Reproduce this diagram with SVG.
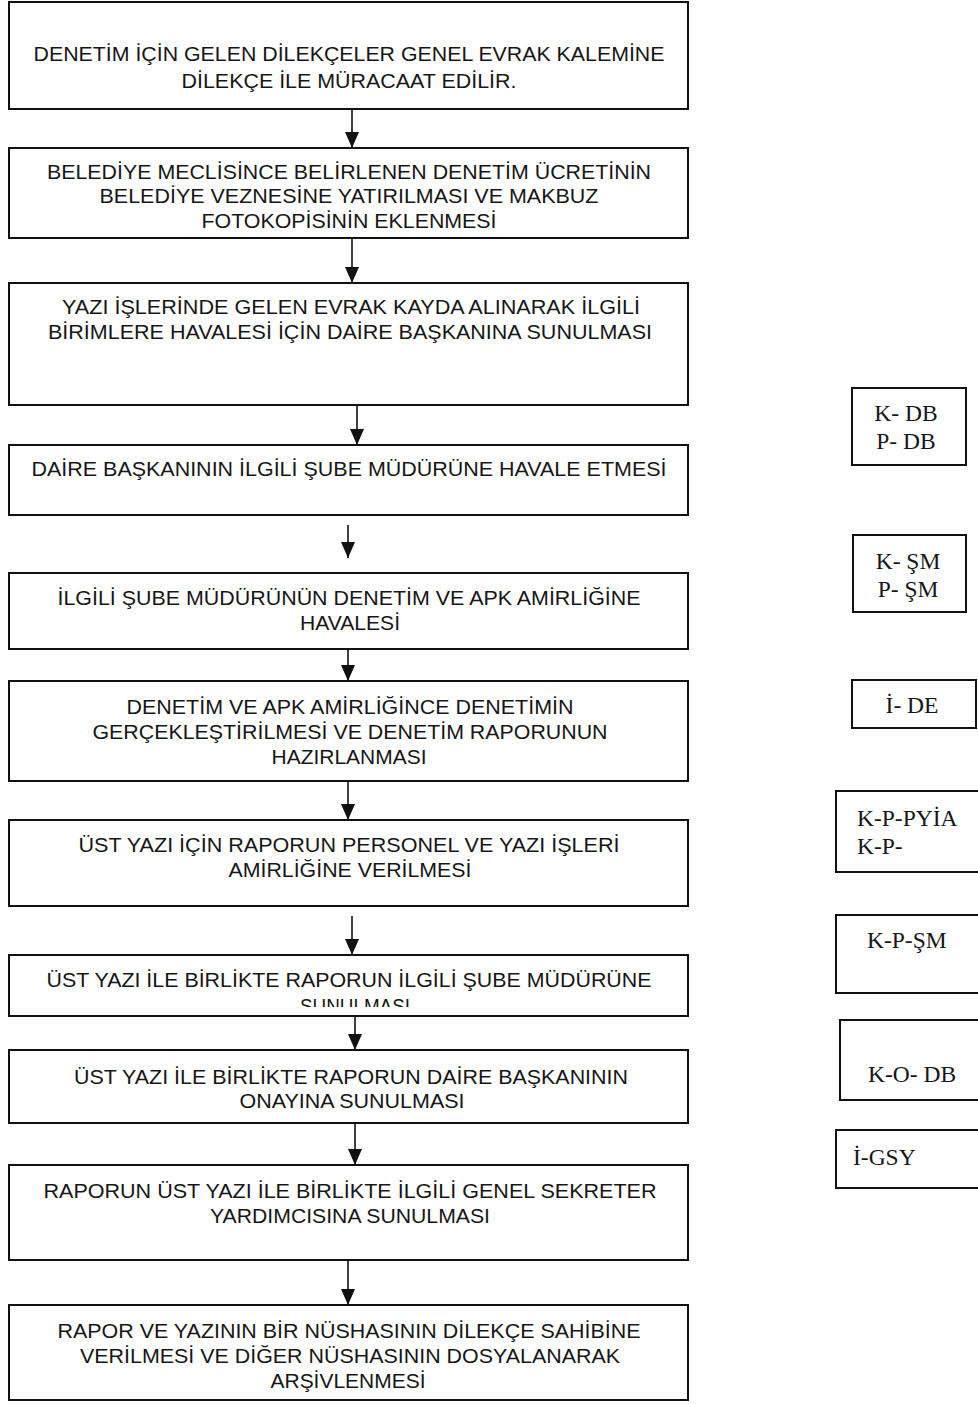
<svg xmlns="http://www.w3.org/2000/svg" width="978" height="1404" viewBox="0 0 978 1404">
<style>
.box{fill:#fff;stroke:#111;stroke-width:2}
.t{font-family:"Liberation Sans",Arial,sans-serif;font-size:21px;fill:#161616;text-anchor:middle}
.s{font-family:"Liberation Serif","Times New Roman",serif;font-size:23.5px;fill:#161616}
.c{text-anchor:middle}
.ln{stroke:#111;stroke-width:1.6;fill:none}
</style>
<defs>
<marker id="ah" viewBox="0 0 16 14" refX="16" refY="7" markerWidth="16" markerHeight="14" markerUnits="userSpaceOnUse" orient="auto">
<path d="M0,0 L16,7 L0,14 Z" fill="#111"/>
</marker>
<clipPath id="clip8"><rect x="0" y="955" width="700" height="52"/></clipPath>
</defs>
<rect width="978" height="1404" fill="#fff"/>

<g id="connectors">
<line class="ln" x1="352" y1="110" x2="352" y2="148" marker-end="url(#ah)"/>
<line class="ln" x1="352" y1="239" x2="352" y2="283" marker-end="url(#ah)"/>
<line class="ln" x1="357" y1="406" x2="357" y2="445" marker-end="url(#ah)"/>
<line class="ln" x1="348" y1="525" x2="348" y2="558" marker-end="url(#ah)"/>
<line class="ln" x1="348" y1="650" x2="348" y2="681" marker-end="url(#ah)"/>
<line class="ln" x1="348" y1="782" x2="348" y2="820" marker-end="url(#ah)"/>
<line class="ln" x1="352" y1="916" x2="352" y2="955" marker-end="url(#ah)"/>
<line class="ln" x1="355" y1="1017" x2="355" y2="1050" marker-end="url(#ah)"/>
<line class="ln" x1="355" y1="1124" x2="355" y2="1165" marker-end="url(#ah)"/>
<line class="ln" x1="348" y1="1261" x2="348" y2="1305" marker-end="url(#ah)"/>
</g>

<g id="n1">
<rect class="box" x="9" y="2" width="679" height="107"/>
<text class="t" x="349" y="61" textLength="631" lengthAdjust="spacingAndGlyphs">DENETİM İÇİN GELEN DİLEKÇELER GENEL EVRAK KALEMİNE</text>
<text class="t" x="349" y="88" textLength="335" lengthAdjust="spacingAndGlyphs">DİLEKÇE İLE MÜRACAAT EDİLİR.</text>
</g>
<g id="n2">
<rect class="box" x="9" y="148" width="679" height="90"/>
<text class="t" x="349" y="179" textLength="604" lengthAdjust="spacingAndGlyphs">BELEDİYE MECLİSİNCE BELİRLENEN DENETİM ÜCRETİNİN</text>
<text class="t" x="349" y="203" textLength="499" lengthAdjust="spacingAndGlyphs">BELEDİYE VEZNESİNE YATIRILMASI VE MAKBUZ</text>
<text class="t" x="349" y="228" textLength="295" lengthAdjust="spacingAndGlyphs">FOTOKOPİSİNİN EKLENMESİ</text>
</g>
<g id="n3">
<rect class="box" x="9" y="283" width="679" height="122"/>
<text class="t" x="351" y="314" textLength="578" lengthAdjust="spacingAndGlyphs">YAZI İŞLERİNDE GELEN EVRAK KAYDA ALINARAK İLGİLİ</text>
<text class="t" x="350" y="339" textLength="604" lengthAdjust="spacingAndGlyphs">BİRİMLERE HAVALESİ İÇİN DAİRE BAŞKANINA SUNULMASI</text>
</g>
<g id="n4">
<rect class="box" x="9" y="445" width="679" height="70"/>
<text class="t" x="349" y="476" textLength="635" lengthAdjust="spacingAndGlyphs">DAİRE BAŞKANININ İLGİLİ ŞUBE MÜDÜRÜNE HAVALE ETMESİ</text>
</g>
<g id="n5">
<rect class="box" x="9" y="573" width="679" height="76"/>
<text class="t" x="349" y="605" textLength="583" lengthAdjust="spacingAndGlyphs">İLGİLİ ŞUBE MÜDÜRÜNÜN DENETİM VE APK AMİRLİĞİNE</text>
<text class="t" x="350" y="630" textLength="100" lengthAdjust="spacingAndGlyphs">HAVALESİ</text>
</g>
<g id="n6">
<rect class="box" x="9" y="681" width="679" height="100"/>
<text class="t" x="350" y="714" textLength="447" lengthAdjust="spacingAndGlyphs">DENETİM VE APK AMİRLİĞİNCE DENETİMİN</text>
<text class="t" x="350" y="739" textLength="515" lengthAdjust="spacingAndGlyphs">GERÇEKLEŞTİRİLMESİ VE DENETİM RAPORUNUN</text>
<text class="t" x="349" y="764" textLength="155" lengthAdjust="spacingAndGlyphs">HAZIRLANMASI</text>
</g>
<g id="n7">
<rect class="box" x="9" y="820" width="679" height="86"/>
<text class="t" x="349" y="852" textLength="541" lengthAdjust="spacingAndGlyphs">ÜST YAZI İÇİN RAPORUN PERSONEL VE YAZI İŞLERİ</text>
<text class="t" x="350" y="877" textLength="243" lengthAdjust="spacingAndGlyphs">AMİRLİĞİNE VERİLMESİ</text>
</g>
<g id="n8">
<rect class="box" x="9" y="955" width="679" height="61"/>
<text class="t" x="349" y="987" textLength="605" lengthAdjust="spacingAndGlyphs">ÜST YAZI İLE BİRLİKTE RAPORUN İLGİLİ ŞUBE MÜDÜRÜNE</text>
<text class="t" x="355" y="1013" textLength="110" lengthAdjust="spacingAndGlyphs" clip-path="url(#clip8)">SUNULMASI</text>
</g>
<g id="n9">
<rect class="box" x="9" y="1050" width="679" height="73"/>
<text class="t" x="351" y="1084" textLength="554" lengthAdjust="spacingAndGlyphs">ÜST YAZI İLE BİRLİKTE RAPORUN DAİRE BAŞKANININ</text>
<text class="t" x="352" y="1108" textLength="225" lengthAdjust="spacingAndGlyphs">ONAYINA SUNULMASI</text>
</g>
<g id="n10">
<rect class="box" x="9" y="1165" width="679" height="95"/>
<text class="t" x="350" y="1198" textLength="613" lengthAdjust="spacingAndGlyphs">RAPORUN ÜST YAZI İLE BİRLİKTE İLGİLİ GENEL SEKRETER</text>
<text class="t" x="350" y="1223" textLength="280" lengthAdjust="spacingAndGlyphs">YARDIMCISINA SUNULMASI</text>
</g>
<g id="n11">
<rect class="box" x="9" y="1305" width="679" height="95"/>
<text class="t" x="349" y="1338" textLength="583" lengthAdjust="spacingAndGlyphs">RAPOR VE YAZININ BİR NÜSHASININ DİLEKÇE SAHİBİNE</text>
<text class="t" x="350" y="1363" textLength="540" lengthAdjust="spacingAndGlyphs">VERİLMESİ VE DİĞER NÜSHASININ DOSYALANARAK</text>
<text class="t" x="348" y="1388" textLength="155" lengthAdjust="spacingAndGlyphs">ARŞİVLENMESİ</text>
</g>

<g id="r1">
<rect class="box" x="852" y="388" width="114" height="77"/>
<text class="s c" x="906" y="421">K- DB</text>
<text class="s c" x="906" y="449">P- DB</text>
</g>
<g id="r2">
<rect class="box" x="853" y="535" width="113" height="77"/>
<text class="s c" x="908" y="569">K- ŞM</text>
<text class="s c" x="908" y="597">P- ŞM</text>
</g>
<g id="r3">
<rect class="box" x="852" y="680" width="124" height="48"/>
<text class="s c" x="912" y="713">İ- DE</text>
</g>
<g id="r4">
<rect class="box" x="836" y="791" width="150" height="81"/>
<text class="s" x="857" y="826">K-P-PYİA</text>
<text class="s" x="857" y="854">K-P-</text>
</g>
<g id="r5">
<rect class="box" x="836" y="915" width="150" height="78"/>
<text class="s" x="867" y="948">K-P-ŞM</text>
</g>
<g id="r6">
<rect class="box" x="840" y="1020" width="146" height="80"/>
<text class="s" x="868" y="1082">K-O- DB</text>
</g>
<g id="r7">
<rect class="box" x="836" y="1130" width="150" height="58"/>
<text class="s" x="853" y="1165">İ-GSY</text>
</g>
</svg>
